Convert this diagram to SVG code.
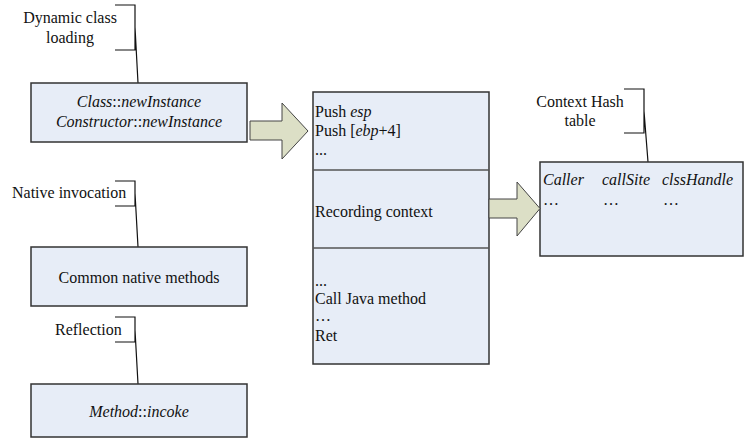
<svg xmlns="http://www.w3.org/2000/svg" width="744" height="440" viewBox="0 0 744 440" font-family="'Liberation Serif', 'DejaVu Serif', serif" font-size="16">
  <style>
    text { fill: #111; }
    .c { text-anchor: middle; }
    .box { fill: #e7edf7; stroke: #333; stroke-width: 1.5; }
    .div { stroke: #555; stroke-width: 1.5; }
    .arrow { fill: #dcdfc6; stroke: #444; stroke-width: 1; }
    .callout { fill: none; stroke: #111; stroke-width: 1.2; }
  </style>
  <rect width="744" height="440" fill="#fff"/>

  <!-- callout labels with bracket leaders -->
  <g id="label-dynamic">
    <text class="c" x="70" y="23">Dynamic class</text>
    <text class="c" x="70" y="43">loading</text>
    <path class="callout" d="M115,5 H135 V50 H115 M135,27 L138,83"/>
  </g>
  <g id="label-native">
    <text x="12" y="198">Native invocation</text>
    <path class="callout" d="M115,181 H135 V206 H115 M135,193 L138,247"/>
  </g>
  <g id="label-reflection">
    <text x="55" y="335">Reflection</text>
    <path class="callout" d="M115,317 H135 V342 H115 M135,330 L138,384"/>
  </g>
  <g id="label-hash">
    <text class="c" x="580" y="107">Context Hash</text>
    <text class="c" x="580" y="126">table</text>
    <path class="callout" d="M624,89 H644 V133 H624 M644,111 L648,162"/>
  </g>

  <!-- entry-point boxes -->
  <g id="node-class-loading">
    <rect class="box" x="31" y="83" width="216" height="59"/>
    <text class="c" x="139" y="107"><tspan font-style="italic">Class</tspan>::<tspan font-style="italic">newInstance</tspan></text>
    <text class="c" x="139" y="127"><tspan font-style="italic">Constructor</tspan>::<tspan font-style="italic">newInstance</tspan></text>
  </g>
  <g id="node-native">
    <rect class="box" x="31" y="247" width="216" height="59"/>
    <text class="c" x="139" y="283">Common native methods</text>
  </g>
  <g id="node-reflection">
    <rect class="box" x="31" y="384" width="216" height="53"/>
    <text class="c" x="139" y="417"><tspan font-style="italic">Method</tspan>::<tspan font-style="italic">incoke</tspan></text>
  </g>

  <!-- stub code block -->
  <g id="node-stub">
    <rect class="box" x="313" y="92" width="176" height="272"/>
    <line class="div" x1="313" y1="170" x2="489" y2="170"/>
    <line class="div" x1="313" y1="248" x2="489" y2="248"/>
    <text x="315" y="117">Push <tspan font-style="italic">esp</tspan></text>
    <text x="315" y="136">Push [<tspan font-style="italic">ebp</tspan>+4]</text>
    <text x="315" y="155">...</text>
    <text x="315" y="217">Recording context</text>
    <text x="315" y="286">...</text>
    <text x="315" y="304">Call Java method</text>
    <text x="315" y="321">…</text>
    <text x="315" y="341">Ret</text>
  </g>

  <!-- context hash table -->
  <g id="node-hash">
    <rect class="box" x="540" y="162" width="203" height="94"/>
    <text x="543" y="185" font-style="italic">Caller</text>
    <text x="602" y="185" font-style="italic">callSite</text>
    <text x="662" y="185" font-style="italic">clssHandle</text>
    <text x="543" y="205">…</text>
    <text x="603" y="205">…</text>
    <text x="663" y="205">…</text>
  </g>

  <!-- block arrows -->
  <g id="connectors">
    <polygon class="arrow" points="250,121 282,121 282,103 308,131 282,159 282,140 250,140"/>
    <polygon class="arrow" points="489,199 517,199 517,182 540,208.5 517,236 517,218 489,218"/>
  </g>
</svg>
